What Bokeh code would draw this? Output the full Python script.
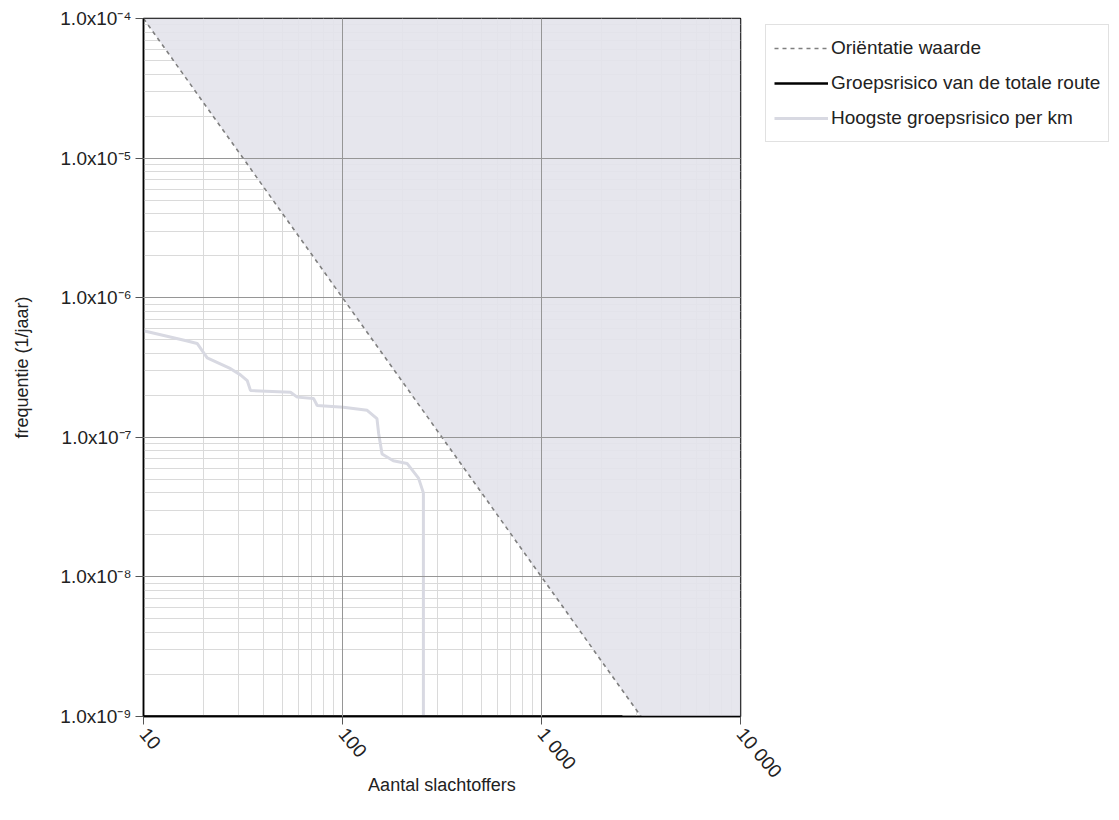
from bokeh.plotting import figure
from bokeh.models import (FixedTicker, Legend, LegendItem, Grid, Range1d)
from bokeh.embed import file_html
from bokeh.resources import INLINE

# ---- data ----
x_ticks = [10, 100, 1000, 10000]
x_tick_labels = ["10", "100", "1 000", "10 000"]
x_minor = [k * 10 ** n for n in (1, 2, 3) for k in range(2, 10)]

y_ticks = [1e-9, 1e-8, 1e-7, 1e-6, 1e-5, 1e-4]
y_tick_labels = ["1.0x10⁻⁹", "1.0x10⁻⁸", "1.0x10⁻⁷", "1.0x10⁻⁶", "1.0x10⁻⁵", "1.0x10⁻⁴"]
y_minor = [k * 10.0 ** n for n in (-9, -8, -7, -6, -5) for k in range(2, 10)]

# Oriëntatie waarde (F = 0.01 / N^2)
ori_N = [10, 10000]
ori_F = [1e-4, 1e-10]
# shaded region above the orientation value
shade_N = [10, 10000, 10000]
shade_F = [1e-4, 1e-10, 1e-4]

# Groepsrisico van de totale route (lies on the lower edge)
tot_N = [10, 2550]
tot_F = [1e-9, 1e-9]

# Hoogste groepsrisico per km
km_N = [10, 16.6, 18.6, 20.9, 27.4, 30.7, 33.2, 34.5, 54.8, 59.2, 71.5, 74.6,
        101, 133, 149, 152, 158, 180, 211, 241, 255, 255]
km_F = [5.8e-7, 4.9e-7, 4.7e-7, 3.7e-7, 3.1e-7, 2.8e-7, 2.55e-7, 2.16e-7, 2.1e-7,
        1.94e-7, 1.9e-7, 1.69e-7, 1.64e-7, 1.56e-7, 1.36e-7, 1.06e-7, 7.6e-8,
        6.8e-8, 6.5e-8, 5.1e-8, 4.0e-8, 1e-9]

FONT = "Liberation Sans"

p = figure(frame_width=597, frame_height=698, x_axis_type="log", y_axis_type="log",
           x_range=Range1d(10, 10000), y_range=Range1d(1e-9, 1e-4),
           output_backend="svg", toolbar_location=None,
           min_border_left=143, min_border_right=0, min_border_top=18,
           min_border_bottom=85)
p.background_fill_color = "white"
p.border_fill_color = "white"
p.outline_line_color = "black"
p.outline_line_width = 1.5

xt = FixedTicker(ticks=x_ticks, minor_ticks=x_minor)
yt = FixedTicker(ticks=y_ticks, minor_ticks=y_minor)

p.xaxis.ticker = xt
p.yaxis.ticker = yt
p.xaxis.major_label_overrides = {t: l for t, l in zip(x_ticks, x_tick_labels)}
p.yaxis.major_label_overrides = {t: l for t, l in zip(y_ticks, y_tick_labels)}

for ax in (p.xaxis[0], p.yaxis[0]):
    ax.axis_line_color = "black"
    ax.axis_line_width = 1.5
    ax.major_tick_out = 8
    ax.major_tick_in = 0
    ax.major_tick_line_color = "#555555"
    ax.minor_tick_out = 0
    ax.minor_tick_in = 0
    ax.major_label_text_font = FONT
    ax.major_label_text_font_size = "19px"
    ax.major_label_text_color = "#222222"
    ax.axis_label_text_font = FONT
    ax.axis_label_text_font_size = "18px"
    ax.axis_label_text_font_style = "normal"
    ax.axis_label_text_color = "#222222"

p.xaxis.major_label_orientation = -0.87
p.xaxis.major_label_standoff = 6
p.xaxis.axis_label = "Aantal slachtoffers"
p.xaxis.axis_label_standoff = -16
p.yaxis.major_label_standoff = 4
p.yaxis.axis_label = "frequentie (1/jaar)"
p.yaxis.axis_label_standoff = 25

# minor grid (underlay)
p.xgrid.ticker = xt
p.ygrid.ticker = yt
p.xgrid.grid_line_color = None
p.ygrid.grid_line_color = None
p.xgrid.minor_grid_line_color = "#dadada"
p.ygrid.minor_grid_line_color = "#dadada"

# shaded area
p.patch(shade_N, shade_F, fill_color="#e4e4ec", fill_alpha=0.92, line_color=None)

# major grid on top of shading
p.add_layout(Grid(dimension=0, ticker=xt, grid_line_color="#969696",
                  grid_line_width=1, level="guide"))
p.add_layout(Grid(dimension=1, ticker=yt, grid_line_color="#969696",
                  grid_line_width=1, level="guide"))

r_km = p.line(km_N, km_F, line_color="#d8d9e2", line_width=3)
r_ori = p.line(ori_N, ori_F, line_color="#7f7f7f", line_width=1.6, line_dash="4 4")
r_tot = p.line(tot_N, tot_F, line_color="black", line_width=2.5)

legend = Legend(items=[
    LegendItem(label="Oriëntatie waarde", renderers=[r_ori]),
    LegendItem(label="Groepsrisico van de totale route", renderers=[r_tot]),
    LegendItem(label="Hoogste groepsrisico per km", renderers=[r_km]),
], location=(25, 574))
legend.label_text_font = FONT
legend.label_text_font_size = "19px"
legend.label_text_color = "#222222"
legend.glyph_width = 54
legend.glyph_height = 30
legend.label_height = 30
legend.label_standoff = 3
legend.spacing = 5
legend.padding = 8
legend.margin = 0
legend.border_line_color = "#c4c4c4"
legend.border_line_width = 1
legend.background_fill_color = "white"
legend.background_fill_alpha = 1.0
p.add_layout(legend, "right")

open("out.html", "w").write(file_html(p, INLINE))
